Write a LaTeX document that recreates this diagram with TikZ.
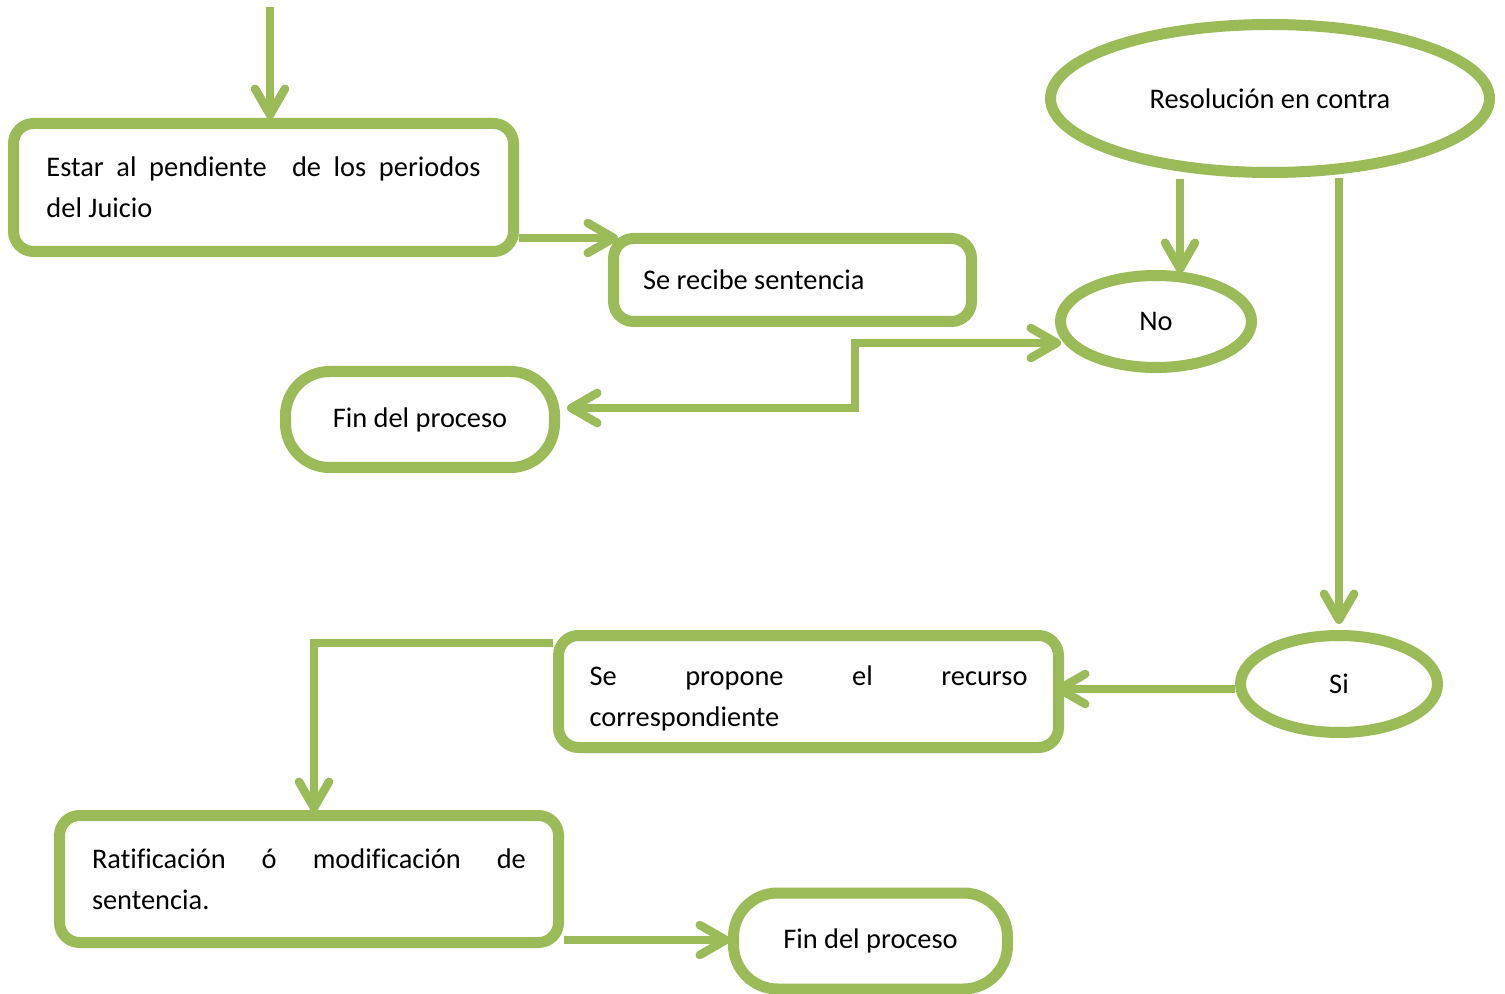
\documentclass[tikz,border=0pt]{standalone}
\usepackage{fontspec}
\setmainfont{Carlito}[Ligatures={NoCommon}]
\usetikzlibrary{arrows.meta,shapes.geometric,calc}
\definecolor{grn}{HTML}{9BBB59}
\begin{document}
\begin{tikzpicture}[x=0.5pt,y=-0.5pt,
  every node/.style={font=\fontsize{14.2}{20.5}\selectfont, inner sep=0pt,
    execute at begin node={\tolerance=10000\hyphenpenalty=10000}},
  box/.style={draw=grn,line width=5.5pt,rounded corners=10pt,fill=white},
  oval/.style={ellipse,draw=grn,line width=5.5pt,fill=white},
  finbox/.style={draw=grn,line width=5.5pt,rounded corners=22pt,fill=white},
  conn/.style={draw=grn,line width=4.25pt,
    -{Straight Barb[length=13pt,width=15pt,round]},
    preaction={draw=black,opacity=0.15,transform canvas={shift={(0.8pt,-1.4pt)}}}},
  connboth/.style={conn,{Straight Barb[length=13pt,width=15pt,round]}-{Straight Barb[length=13pt,width=15pt,round]}},
]
\useasboundingbox (0,0) rectangle (1505,994);

% nodes
\node[box,minimum width=250pt,minimum height=64pt,text width=217pt,align=justify]
  (b1) at (263.5,187.5) {Estar al pendiente\ \ de los periodos\linebreak del Juicio};
\node[box,minimum width=179pt,minimum height=41.5pt,text width=149.5pt,align=flush left]
  (b2) at (792.5,280) {Se recibe sentencia};
\node[oval,minimum width=219.5pt,minimum height=74pt]
  (r) at (1270,98.5) {Resolución en contra};
\node[oval,minimum width=95.5pt,minimum height=46pt]
  (n) at (1156,321.5) {No};
\node[finbox,minimum width=134.5pt,minimum height=48pt]
  (f1) at (420,419.5) {Fin del proceso};
\node[oval,minimum width=98.5pt,minimum height=48.5pt]
  (si) at (1339,684) {Si};
\node[box,minimum width=250pt,minimum height=56pt,text width=219pt,align=justify]
  (b3) at (808.5,691.5) {\rule{0pt}{16.6pt}Se propone el recurso\linebreak correspondiente};
\node[box,minimum width=249.5pt,minimum height=63.5pt,text width=217pt,align=justify]
  (b4) at (309,879) {Ratificación ó modificación de\linebreak sentencia.};
\node[finbox,minimum width=137pt,minimum height=48pt]
  (f2) at (870.5,941) {Fin del proceso};

% helper coordinates
\coordinate (t0) at (270,7);
\coordinate (y1) at (0,238);
\coordinate (k1) at (855,408);
\coordinate (k2) at (855,343);
\coordinate (k3) at (1180,179);
\coordinate (y4) at (0,689);
\coordinate (k5) at (314,643);
\coordinate (y6) at (0,940);

% connectors
\draw[conn,shorten >=-0.5pt] (t0) -- (t0 |- b1.north);
\draw[conn,shorten >=-5pt] (b1.east |- y1) -- (b2.north west |- y1);
\draw[connboth,shorten <=3.5pt,shorten >=-3pt] (f1.east |- k1) -- (k1) -- (k2) -- (k2 -| n.west);
\draw[conn,shorten >=-1.5pt] (k3) -- (k3 |- n.north);
\draw[conn,shorten >=3pt] (si.north |- r.south) -- (si.north);
\draw[conn,shorten >=-4.5pt] (si.west |- y4) -- (b3.east |- y4);
\draw[conn,shorten >=-1pt] (b3.west |- k5) -- (k5) -- (k5 |- b4.north);
\draw[conn,shorten >=-1pt] (b4.east |- y6) -- (f2.west |- y6);
\end{tikzpicture}
\end{document}
